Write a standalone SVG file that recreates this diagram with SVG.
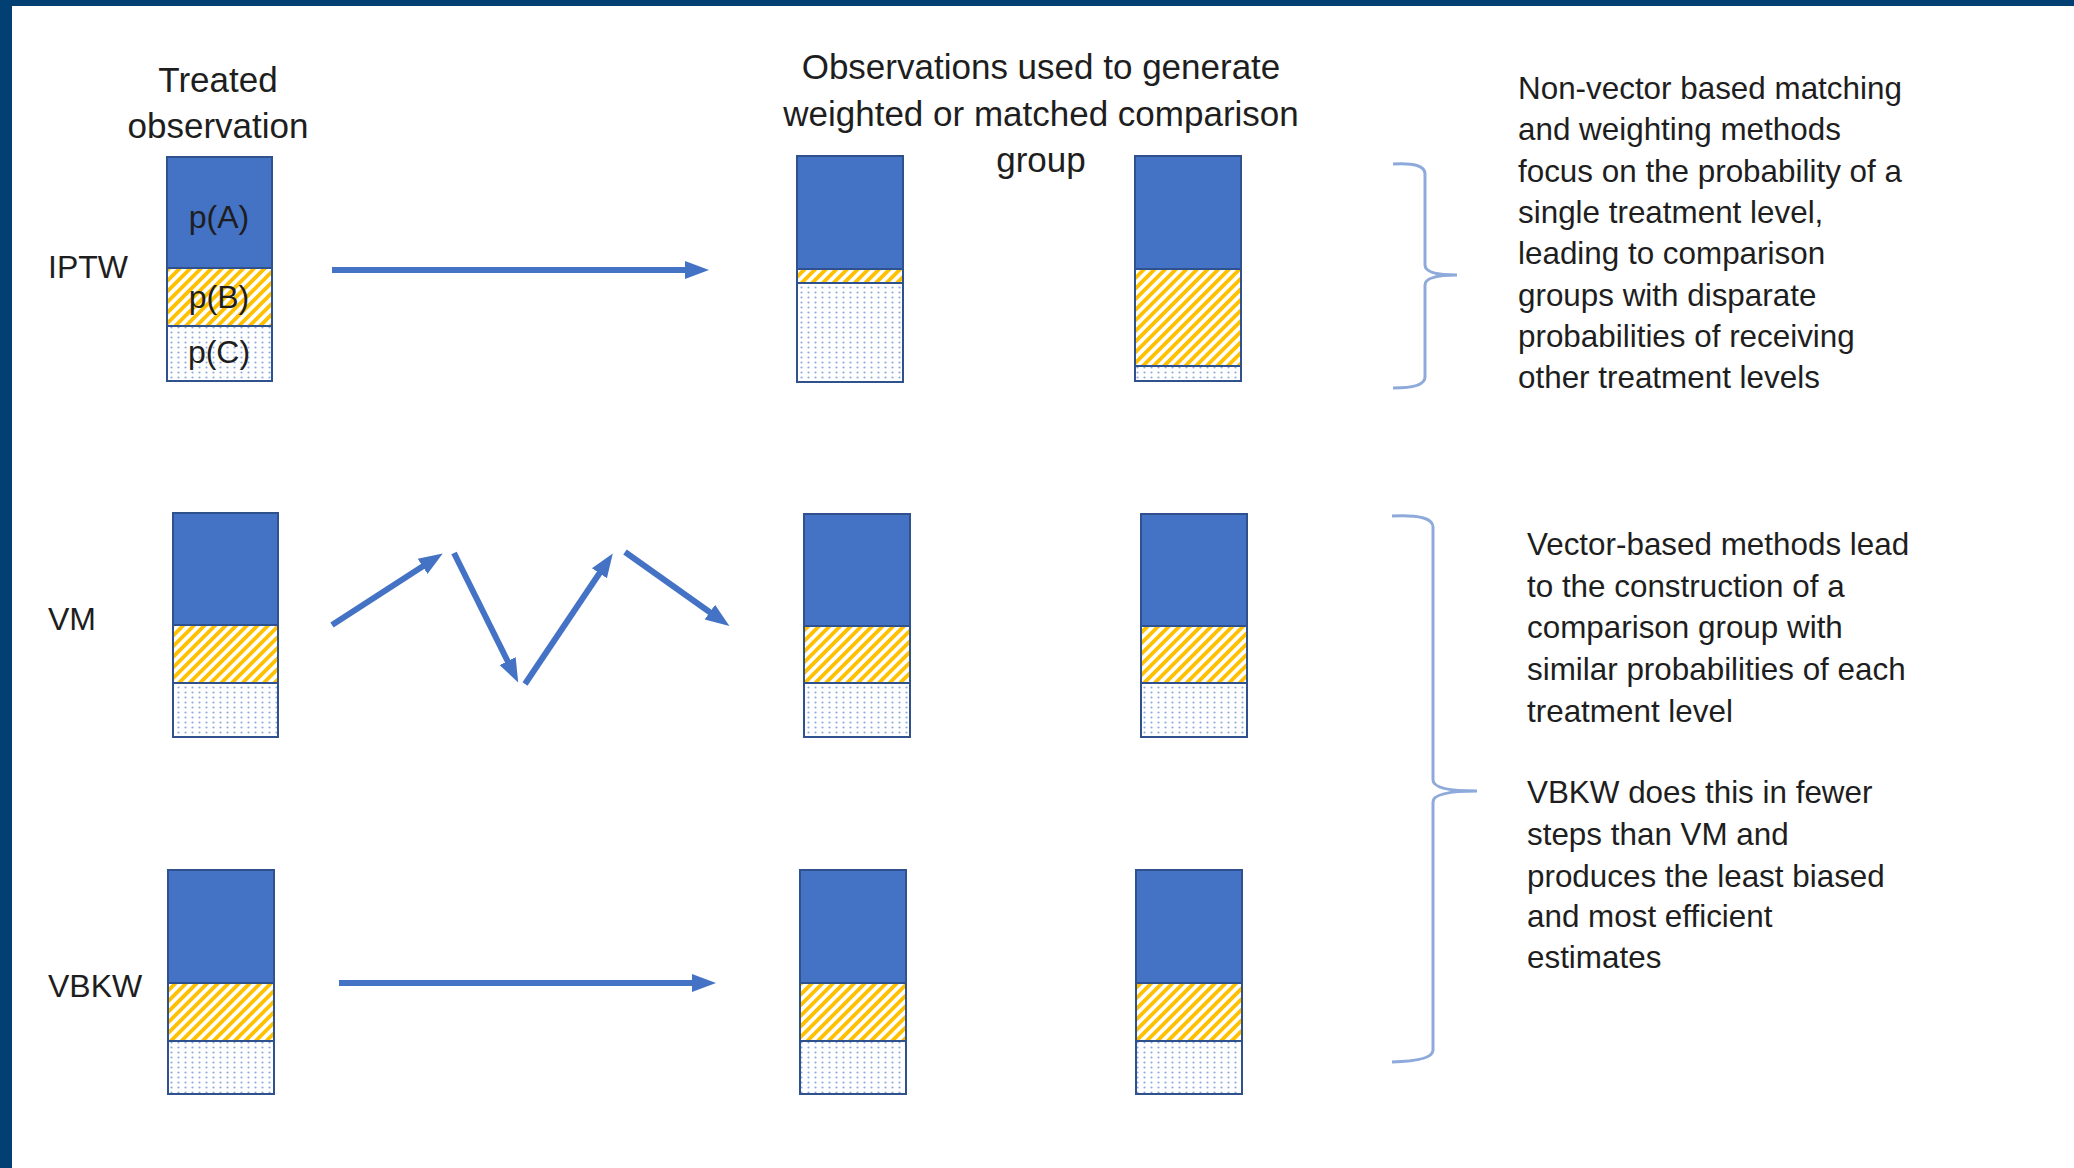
<svg xmlns="http://www.w3.org/2000/svg" width="2074" height="1168" viewBox="0 0 2074 1168">
<style>
text{font-family:"Liberation Sans",Arial,sans-serif;fill:#1e1e1e}
.h{font-size:35px;text-anchor:middle}
.lab{font-size:32px}
.p{font-size:32px;text-anchor:middle}
.note{font-size:31.4px}
.a{fill:#4472c4;stroke:#2f528f;stroke-width:2}
.b{fill:url(#stripe);stroke:#2f528f;stroke-width:2}
.c{fill:url(#dots);stroke:#2f528f;stroke-width:2}
.arr{stroke:#4472c4;stroke-width:6;fill:none;marker-end:url(#ah)}
.brace{stroke:#8eaadb;stroke-width:3;fill:none}
</style>
<defs>
<pattern id="stripe" patternUnits="userSpaceOnUse" width="7.5" height="7.5" patternTransform="rotate(45)">
<rect width="7.5" height="7.5" fill="#ffffff"/>
<rect width="3.8" height="7.5" fill="#ffc000"/>
</pattern>
<pattern id="dots" patternUnits="userSpaceOnUse" width="7" height="5">
<rect width="7" height="5" fill="#ffffff"/>
<circle cx="3.5" cy="2.5" r="1.1" fill="#8faadc"/>
</pattern>
<marker id="ah" markerUnits="userSpaceOnUse" markerWidth="24" markerHeight="20" viewBox="0 0 24 20" refX="10" refY="10" orient="auto">
<path d="M0,1 L24,10 L0,19 z" fill="#4472c4"/>
</marker>
</defs>
<rect width="2074" height="1168" fill="#ffffff"/>
<rect x="0" y="0" width="2074" height="6" fill="#023f73"/>
<rect x="0" y="0" width="12" height="1168" fill="#023f73"/>

<g id="headings">
<text class="h" x="218" y="92">Treated</text>
<text class="h" x="218" y="138">observation</text>
<text class="h" x="1041" y="79">Observations used to generate</text>
<text class="h" x="1041" y="126">weighted or matched comparison</text>
<text class="h" x="1041" y="172">group</text>
</g>

<g id="row-labels">
<text class="lab" x="48" y="278">IPTW</text>
<text class="lab" x="48" y="630">VM</text>
<text class="lab" x="48" y="997">VBKW</text>
</g>

<g id="iptw-treated">
<rect class="a" x="167" y="157" width="105" height="111"/>
<rect class="b" x="167" y="268" width="105" height="58"/>
<rect class="c" x="167" y="326" width="105" height="55"/>
<text class="p" x="219" y="228">p(A)</text>
<text class="p" x="219" y="308">p(B)</text>
<text class="p" x="219" y="363">p(C)</text>
</g>
<g id="iptw-comp1">
<rect class="a" x="797" y="156" width="106" height="113"/>
<rect class="b" x="797" y="269" width="106" height="14"/>
<rect class="c" x="797" y="283" width="106" height="99"/>
</g>
<g id="iptw-comp2">
<rect class="a" x="1135" y="156" width="106" height="113"/>
<rect class="b" x="1135" y="269" width="106" height="97"/>
<rect class="c" x="1135" y="366" width="106" height="15"/>
</g>

<g id="vm-treated">
<rect class="a" x="173" y="513" width="105" height="112"/>
<rect class="b" x="173" y="625" width="105" height="58"/>
<rect class="c" x="173" y="683" width="105" height="54"/>
</g>
<g id="vm-comp1">
<rect class="a" x="804" y="514" width="106" height="112"/>
<rect class="b" x="804" y="626" width="106" height="57"/>
<rect class="c" x="804" y="683" width="106" height="54"/>
</g>
<g id="vm-comp2">
<rect class="a" x="1141" y="514" width="106" height="112"/>
<rect class="b" x="1141" y="626" width="106" height="57"/>
<rect class="c" x="1141" y="683" width="106" height="54"/>
</g>

<g id="vbkw-treated">
<rect class="a" x="168" y="870" width="106" height="113"/>
<rect class="b" x="168" y="983" width="106" height="58"/>
<rect class="c" x="168" y="1041" width="106" height="53"/>
</g>
<g id="vbkw-comp1">
<rect class="a" x="800" y="870" width="106" height="113"/>
<rect class="b" x="800" y="983" width="106" height="58"/>
<rect class="c" x="800" y="1041" width="106" height="53"/>
</g>
<g id="vbkw-comp2">
<rect class="a" x="1136" y="870" width="106" height="113"/>
<rect class="b" x="1136" y="983" width="106" height="58"/>
<rect class="c" x="1136" y="1041" width="106" height="53"/>
</g>

<g id="connectors">
<path class="arr" d="M332,270 L695,270"/>
<path class="arr" d="M332,625 L431,561"/>
<path class="arr" d="M454,553 L512,670"/>
<path class="arr" d="M525,684 L605,565"/>
<path class="arr" d="M625,552 L718,618"/>
<path class="arr" d="M339,983 L702,983"/>
</g>

<g id="braces">
<path class="brace" d="M1393,164 Q1425,162 1425,174 L1425,265 Q1425,275 1457,275 Q1425,275 1425,285 L1425,377 Q1425,388 1393,388"/>
<path class="brace" d="M1392,516 Q1433,514 1433,527 L1433,780 Q1433,791 1477,791 Q1433,791 1433,802 L1433,1050 Q1433,1061 1392,1062"/>
</g>

<g id="note-nonvector">
<text class="note" x="1518" y="99">Non-vector based matching</text>
<text class="note" x="1518" y="140">and weighting methods</text>
<text class="note" x="1518" y="182">focus on the probability of a</text>
<text class="note" x="1518" y="223">single treatment level,</text>
<text class="note" x="1518" y="264">leading to comparison</text>
<text class="note" x="1518" y="306">groups with disparate</text>
<text class="note" x="1518" y="347">probabilities of receiving</text>
<text class="note" x="1518" y="388">other treatment levels</text>
</g>

<g id="note-vector">
<text class="note" x="1527" y="555">Vector-based methods lead</text>
<text class="note" x="1527" y="597">to the construction of a</text>
<text class="note" x="1527" y="638">comparison group with</text>
<text class="note" x="1527" y="680">similar probabilities of each</text>
<text class="note" x="1527" y="722">treatment level</text>
<text class="note" x="1527" y="803">VBKW does this in fewer</text>
<text class="note" x="1527" y="845">steps than VM and</text>
<text class="note" x="1527" y="887">produces the least biased</text>
<text class="note" x="1527" y="927">and most efficient</text>
<text class="note" x="1527" y="968">estimates</text>
</g>
</svg>
